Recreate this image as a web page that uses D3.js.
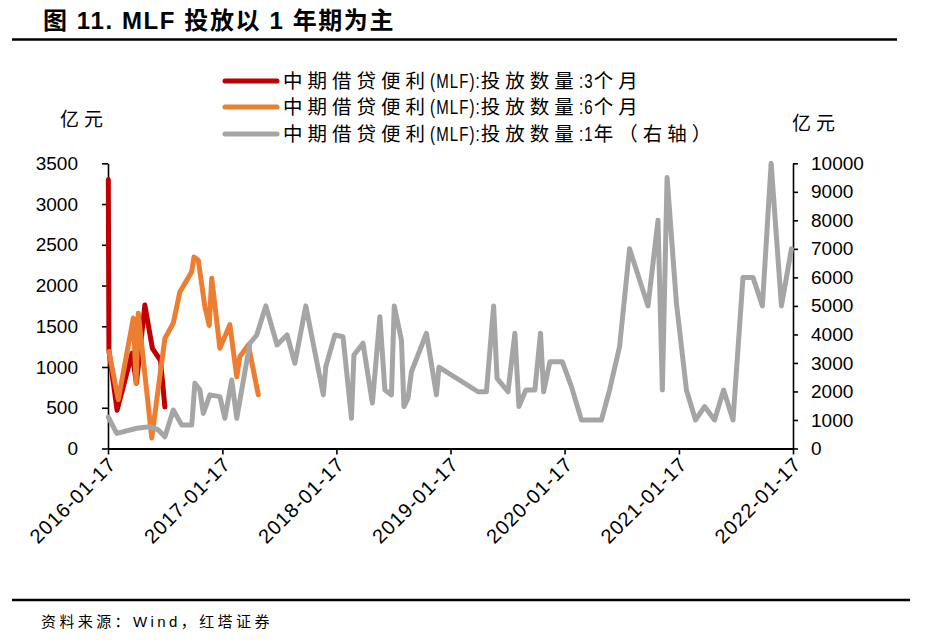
<html>
<head>
<meta charset="utf-8">
<script src="https://cdn.jsdelivr.net/npm/d3@7/dist/d3.min.js"></script>
<style>
body {
	margin:0px;
	background:#ffffff;
}
svg text {
	font-family: "Liberation Sans", "Noto Sans CJK SC", sans-serif;
	fill:#000000;
}
</style>
</head>
<body>
<svg width="927" height="642" id="viz"></svg>
<script>
// 3个月 (left axis)
var dates3m = ["2016-01-18","2016-01-20","2016-02-15","2016-04-03","2016-04-17","2016-05-14","2016-06-07","2016-07-03","2016-07-17"];
var vals3m = [3300,1200,470,1170,800,1760,1230,1080,510];
// 6个月 (left axis)
var dates6m = ["2016-01-20","2016-02-19","2016-04-07","2016-04-16","2016-04-23","2016-06-05","2016-07-17","2016-08-13","2016-09-03","2016-10-11","2016-10-18","2016-11-01","2016-11-22","2016-12-06","2016-12-14","2017-01-09","2017-02-10","2017-03-04","2017-03-14","2017-04-10","2017-05-12"];
var vals6m = [1190,600,1600,800,1660,130,1350,1540,1920,2170,2350,2310,1740,1510,2090,1230,1520,880,1130,1270,660];
// 1年 (right axis)
var dates1y = ["2016-01-18","2016-02-14","2016-04-18","2016-05-30","2016-06-26","2016-07-17","2016-08-13","2016-09-09","2016-10-11","2016-10-21","2016-11-06","2016-11-17","2016-12-08",
	"2017-01-09","2017-01-25","2017-02-16","2017-03-04","2017-04-15","2017-05-07","2017-06-05","2017-07-11","2017-08-12","2017-09-06","2017-10-11","2017-12-06","2017-12-14",
	"2018-01-12","2018-02-07","2018-03-06","2018-03-14","2018-04-12","2018-05-12","2018-06-05","2018-06-21","2018-07-12","2018-07-21","2018-08-13","2018-08-21","2018-09-03","2018-09-14","2018-11-01","2018-12-03","2018-12-11",
	"2019-04-15","2019-05-12","2019-06-04","2019-06-15","2019-07-20","2019-08-11","2019-08-24","2019-09-15","2019-10-14","2019-11-01","2019-11-11","2019-12-01",
	"2020-01-10","2020-02-08","2020-03-11","2020-05-14","2020-06-09","2020-07-11","2020-08-12","2020-10-10","2020-11-11","2020-11-25","2020-12-10",
	"2021-01-09","2021-02-10","2021-03-11","2021-04-09","2021-05-11","2021-06-09","2021-07-09","2021-08-10","2021-09-11","2021-10-11","2021-11-08","2021-12-11",
	"2022-01-12"];
var vals1y = [1100,530,710,760,650,410,1350,820,820,2290,2050,1230,1880,
	1820,1060,2400,1060,3690,3980,5000,3630,3980,2990,5000,1880,2870,
	3980,3920,1060,3280,3690,1590,4620,2050,1880,5000,3800,1470,1760,2690,4040,1880,2850,
	1990,1990,5000,2460,1990,4040,1470,2050,2050,4040,1990,3040,
	3040,2170,1000,1000,2050,3570,7000,5000,8000,2050,9500,
	5090,2050,1000,1470,1000,2050,1000,6000,6000,5000,10000,5000,
	7000];

var xTickDates = ["2016-01-17","2017-01-17","2018-01-17","2019-01-17","2020-01-17","2021-01-17","2022-01-17"];
var leftTicks = [0,500,1000,1500,2000,2500,3000,3500];
var rightTicks = [0,1000,2000,3000,4000,5000,6000,7000,8000,9000,10000];
var seriesNames = ["中期借贷便利(MLF):投放数量:3个月","中期借贷便利(MLF):投放数量:6个月","中期借贷便利(MLF):投放数量:1年（右轴）"];
var seriesColors = ["#C00000","#ED7D31","#A5A5A5"];

var parseDate = d3.timeParse("%Y-%m-%d");
var svg = d3.select("#viz");

var xScale = d3.scaleTime().domain([parseDate(xTickDates[0]), parseDate(xTickDates[xTickDates.length-1])]).range([108,793]);
var yLeft = d3.scaleLinear().domain([0,3500]).range([448.5,163.3]);
var yRight = d3.scaleLinear().domain([0,10000]).range([448.5,163.3]);

//title + rules
svg.append("text").text("图 11. MLF 投放以 1 年期为主")
	.attr("x",43).attr("y",29)
	.style("font-size","24px").style("font-weight","bold").style("letter-spacing","1.6px");
svg.append("line").attr("x1",12).attr("x2",897).attr("y1",39.5).attr("y2",39.5)
	.attr("stroke","#000").attr("stroke-width",2.5);
svg.append("line").attr("x1",12).attr("x2",910).attr("y1",600).attr("y2",600)
	.attr("stroke","#000").attr("stroke-width",2.5);
svg.append("text").text("资料来源：Wind，红塔证券")
	.attr("x",41).attr("y",627)
	.style("font-size","15px").style("letter-spacing","3.4px");

//legend text: wide-spaced CJK runs, narrow latin runs (like the source font)
function mixedText(g, str, x, y) {
	var runs = str.match(/[\x00-\x7F]+|[^\x00-\x7F]+/g);
	var cx = x;
	runs.forEach(function (r) {
		var t = g.append("text").text(r);
		if (/^[\x00-\x7F]+$/.test(r)) {
			t.style("font-size","20px").style("letter-spacing","1.5px")
				.attr("transform","translate("+cx+","+y+") scale(0.75,1)");
			cx += t.node().getComputedTextLength()*0.75;
		} else {
			t.style("font-size","19.5px").style("letter-spacing","5px")
				.attr("transform","translate("+cx+","+y+")");
			cx += t.node().getComputedTextLength();
		}
	});
}
var legend = svg.append("g").attr("class","legend");
for (var i=0;i<seriesNames.length;i++) {
	var ly = [81,107,134][i];
	legend.append("line").attr("x1",225).attr("x2",277).attr("y1",ly).attr("y2",ly)
		.attr("stroke",seriesColors[i]).attr("stroke-width",5).attr("stroke-linecap","round");
	mixedText(legend, seriesNames[i], 283, ly+7);
}

//unit labels
svg.append("text").text("亿元").attr("x",60).attr("y",126).style("font-size","19px").style("letter-spacing","5px");
svg.append("text").text("亿元").attr("x",792).attr("y",130).style("font-size","19px").style("letter-spacing","5px");

//axes
var xAxis = d3.axisBottom(xScale).tickValues(xTickDates.map(parseDate)).tickFormat(d3.timeFormat("%Y-%m-%d")).tickSize(6).tickSizeOuter(0);
var leftAxis = d3.axisLeft(yLeft).tickValues(leftTicks).tickFormat(d3.format("d")).tickSize(6).tickPadding(24).tickSizeOuter(0);
var rightAxis = d3.axisRight(yRight).tickValues(rightTicks).tickFormat(d3.format("d")).tickSize(5).tickPadding(13).tickSizeOuter(0);

svg.append("g").attr("class","yaxis").attr("transform","translate(108,0)").call(leftAxis);
svg.append("g").attr("class","yaxis2").attr("transform","translate(793,0)").call(rightAxis);
svg.append("g").attr("class","xaxis").attr("transform","translate(0,448.5)").call(xAxis);

svg.selectAll(".yaxis text, .yaxis2 text").style("font-size","19px").attr("font-family",null);
svg.selectAll(".xaxis text").style("font-size","20px").style("letter-spacing","1px").attr("font-family",null)
	.attr("y",0).attr("x",0).attr("dy","0.35em")
	.attr("transform","translate(4,12) rotate(-45)")
	.style("text-anchor","end");
svg.selectAll(".domain, .tick line").attr("stroke","#000").attr("stroke-width",1.6);
svg.select(".xaxis .domain").attr("stroke-width",2.2);

//series lines, gray last so it sits on top
var line = function (dates, vals, yScale) {
	var pts = [];
	for (var j=0;j<dates.length;j++) {
		pts.push([xScale(parseDate(dates[j])), yScale(vals[j])]);
	}
	return d3.line()(pts);
};
var seriesPaths = [line(dates3m,vals3m,yLeft), line(dates6m,vals6m,yLeft), line(dates1y,vals1y,yRight)];
svg.append("g").attr("class","series").selectAll("path").data(seriesPaths).enter().append("path")
	.attr("d",function (d) { return d; })
	.attr("fill","none")
	.attr("stroke",function (d,i) { return seriesColors[i]; })
	.attr("stroke-width",5)
	.attr("stroke-linejoin","round")
	.attr("stroke-linecap","round");
</script>
</body>
</html>
